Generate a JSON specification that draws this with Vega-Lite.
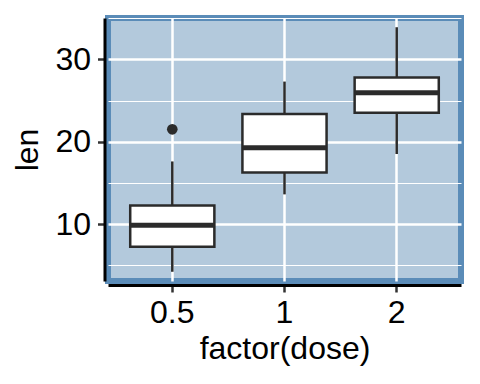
{
  "$schema": "https://vega.github.io/schema/vega-lite/v6.json",
  "width": 353,
  "height": 263,
  "autosize": {"type": "none"},
  "padding": {"left": 108, "top": 18, "right": 19, "bottom": 103},
  "background": "white",
  "config": {
    "view": {"fill": "#B3C9DC", "stroke": "#5B8CB8", "strokeWidth": 6},
    "font": "Liberation Sans",
    "axis": {
      "labelFont": "Liberation Sans",
      "titleFont": "Liberation Sans",
      "labelFontSize": 32,
      "titleFontSize": 32,
      "labelColor": "black",
      "titleColor": "black",
      "titleFontWeight": "normal",
      "domainColor": "black",
      "domainWidth": 3,
      "tickColor": "#333333",
      "tickWidth": 2.5,
      "tickSize": 7,
      "gridColor": "white"
    }
  },
  "datasets": {
    "boxes": [
      {"dose": "0.5", "lower": 4.2, "q1": 7.225, "median": 9.85, "q3": 12.25, "upper": 17.6},
      {"dose": "1", "lower": 13.6, "q1": 16.25, "median": 19.25, "q3": 23.375, "upper": 27.3},
      {"dose": "2", "lower": 18.5, "q1": 23.525, "median": 25.95, "q3": 27.8, "upper": 33.9}
    ],
    "outliers": [
      {"dose": "0.5", "len": 21.5}
    ]
  },
  "encoding": {
    "x": {
      "field": "dose",
      "type": "nominal",
      "sort": ["0.5", "1", "2"],
      "scale": {"type": "band", "paddingInner": 0.25, "paddingOuter": 0.198},
      "axis": {
        "title": "factor(dose)",
        "labelAngle": 0,
        "offset": 4,
        "grid": true,
        "gridWidth": 2.5,
        "bandPosition": 0.5,
        "labelPadding": 5,
        "titlePadding": 5
      }
    }
  },
  "layer": [
    {
      "data": {"name": "boxes"},
      "mark": {"type": "rule", "color": "#2b2b2b", "strokeWidth": 2.5},
      "encoding": {
        "y": {
          "field": "lower",
          "type": "quantitative",
          "scale": {"domain": [3.079, 35.021], "nice": false, "zero": false},
          "axis": {
            "title": "len",
            "values": [5, 10, 15, 20, 25, 30, 35],
            "offset": 3.5,
            "grid": true,
            "gridWidth": {"condition": {"test": "datum.value % 10 === 0", "value": 2.5}, "value": 1.2},
            "tickOpacity": {"condition": {"test": "datum.value % 10 === 0", "value": 1}, "value": 0},
            "labelExpr": "datum.value % 10 === 0 ? datum.label : ''",
            "labelPadding": 7,
            "titlePadding": 10
          }
        },
        "y2": {"field": "upper"}
      }
    },
    {
      "data": {"name": "boxes"},
      "mark": {"type": "bar", "fill": "white", "stroke": "#2b2b2b", "strokeWidth": 2.5},
      "encoding": {
        "y": {"field": "q1", "type": "quantitative"},
        "y2": {"field": "q3"}
      }
    },
    {
      "data": {"name": "boxes"},
      "mark": {"type": "tick", "color": "#2b2b2b", "thickness": 5, "size": 84, "opacity": 1},
      "encoding": {
        "y": {"field": "median", "type": "quantitative"}
      }
    },
    {
      "data": {"name": "outliers"},
      "mark": {"type": "circle", "color": "#2b2b2b", "size": 113, "opacity": 1},
      "encoding": {
        "y": {"field": "len", "type": "quantitative"}
      }
    }
  ]
}
